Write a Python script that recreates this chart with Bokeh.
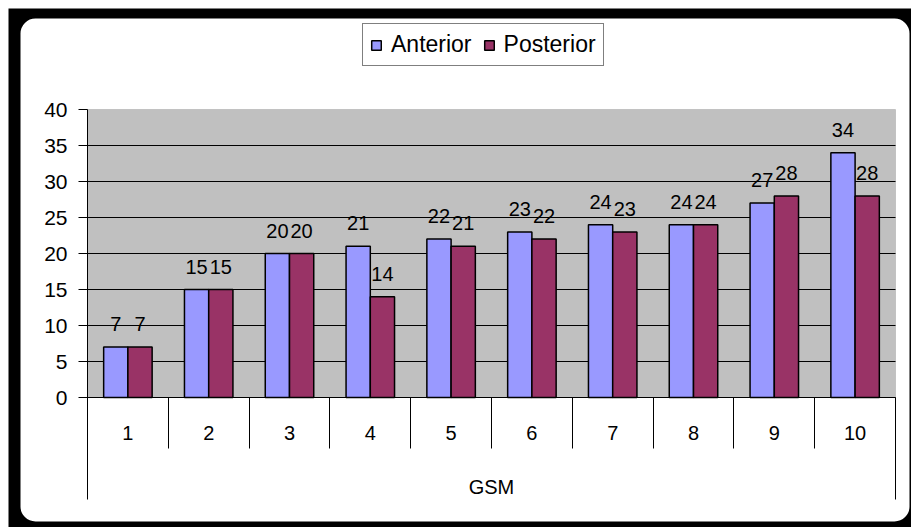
from bokeh.plotting import figure
from bokeh.models import (Range1d, FixedTicker, LinearAxis, BoxAnnotation, Legend,
                          LegendItem, ColumnDataSource, Grid)
from bokeh.core.properties import value
from bokeh.embed import file_html
from bokeh.resources import INLINE

# ---- data ----
categories = ["1", "2", "3", "4", "5", "6", "7", "8", "9", "10"]
anterior = [7, 15, 20, 21, 22, 23, 24, 24, 27, 34]
posterior = [7, 15, 20, 14, 21, 22, 23, 24, 28, 28]
series_names = ["Anterior", "Posterior"]
y_ticks = [0, 5, 10, 15, 20, 25, 30, 35, 40]
x_title = "GSM"

# ---- styling / layout (pixels inside the figure) ----
FONT = "Liberation Sans"
COL_A = "#9999FF"
COL_P = "#993366"
W, H = 903, 519
PL, PR, PT, PB = 79, 887, 101, 389      # plotting area edges
BAND = 102                              # category band height below the axis
SEP = 51                                # separator tick length
n = len(categories)
bar_w = 0.3

xs = (PR - PL) / n                      # px per category
ys = (PB - PT) / y_ticks[-1]            # px per value unit
x0 = 0.5 - PL / xs
x1 = n + 0.5 + (W - PR) / xs
y1 = y_ticks[-1] + PT / ys
y0 = -(H - PB) / ys
band_bottom = -BAND / ys


def px_x(px):
    return x0 + px / xs


def px_y(py):
    return y1 - py / ys


pos = list(range(1, n + 1))
src = ColumnDataSource(dict(
    xa=[x - bar_w / 2 for x in pos],
    xp=[x + bar_w / 2 for x in pos],
    a=anterior, p=posterior,
    la=[str(v) for v in anterior], lp=[str(v) for v in posterior],
))

p = figure(width=W, height=H, margin=(8, 0, 0, 8),
           x_range=Range1d(x0, x1), y_range=Range1d(y0, y1),
           x_axis_type=None, y_axis_type=None,
           output_backend="svg", toolbar_location=None,
           min_border=0, min_border_left=0, min_border_right=0,
           min_border_top=0, min_border_bottom=0,
           border_fill_color="black", background_fill_color="black",
           outline_line_color=None)

# white rounded panel
p.add_layout(BoxAnnotation(left=px_x(12), right=px_x(901), top=px_y(10), bottom=px_y(513),
                           fill_color="white", fill_alpha=1, line_color=None,
                           border_radius=15, level="image"))
# gray plot area
p.add_layout(BoxAnnotation(left=0.5, right=n + 0.5, bottom=0, top=y_ticks[-1],
                           fill_color="#C0C0C0", fill_alpha=1,
                           line_color="#808080", line_width=1, level="image"))

# horizontal grid lines
p.add_layout(Grid(dimension=1, ticker=FixedTicker(ticks=y_ticks[1:-1]),
                  cross_bounds=(0.5, n + 0.5),
                  grid_line_color="black", grid_line_width=1))

# y axis
yax = LinearAxis(fixed_location=0.5, bounds=(band_bottom, y_ticks[-1]),
                 ticker=FixedTicker(ticks=y_ticks),
                 major_tick_out=9, major_tick_in=0,
                 minor_tick_line_color=None, axis_line_color="black",
                 major_tick_line_color="black", major_label_standoff=11,
                 major_label_text_font=FONT, major_label_text_font_size="21px",
                 major_label_text_color="black")
p.add_layout(yax, "left")

# right border line of the category band
rax = LinearAxis(fixed_location=n + 0.5, ticker=FixedTicker(ticks=[]),
                 bounds=(band_bottom, 0),
                 axis_line_color="black", major_tick_line_color=None,
                 minor_tick_line_color=None, major_label_text_font_size="0px")
p.add_layout(rax, "right")

# category axis at y = 0
xax = LinearAxis(fixed_location=0, bounds=(0.5, n + 0.5),
                 ticker=FixedTicker(ticks=pos, minor_ticks=[x + 0.5 for x in range(0, n + 1)]),
                 major_label_overrides={x: c for x, c in zip(pos, categories)},
                 major_tick_out=0, major_tick_in=0,
                 minor_tick_out=SEP, minor_tick_in=0,
                 minor_tick_line_color="black", axis_line_color="black",
                 major_label_standoff=-23,
                 major_label_text_font=FONT, major_label_text_font_size="20px",
                 major_label_text_color="black",
                 axis_label=x_title, axis_label_standoff=33,
                 axis_label_text_font=FONT, axis_label_text_font_size="20px",
                 axis_label_text_font_style="normal", axis_label_text_color="black")
p.add_layout(xax, "below")

# bars
ra = p.vbar(x="xa", top="a", width=bar_w, source=src, fill_color=COL_A,
            line_color="black", line_width=1.5)
rp = p.vbar(x="xp", top="p", width=bar_w, source=src, fill_color=COL_P,
            line_color="black", line_width=1.5)

# data labels
for xcol, ycol, tcol in (("xa", "a", "la"), ("xp", "p", "lp")):
    p.text(x=xcol, y=ycol, text=tcol, source=src, text_align="center",
           text_baseline="middle", y_offset=-23, text_font=value(FONT),
           text_font_size="20px", text_color="black")

legend = Legend(items=[LegendItem(label=series_names[0], renderers=[ra]),
                       LegendItem(label=series_names[1], renderers=[rp])],
                location=(354, 461), orientation="horizontal",
                border_line_color="black", border_line_width=1,
                background_fill_color="white", background_fill_alpha=1,
                label_text_font=FONT, label_text_font_size="23px",
                label_text_color="black",
                glyph_width=12, glyph_height=12, label_standoff=9,
                spacing=11, padding=7, margin=0)
p.add_layout(legend, "center")

open("out.html", "w").write(file_html(p, INLINE))
